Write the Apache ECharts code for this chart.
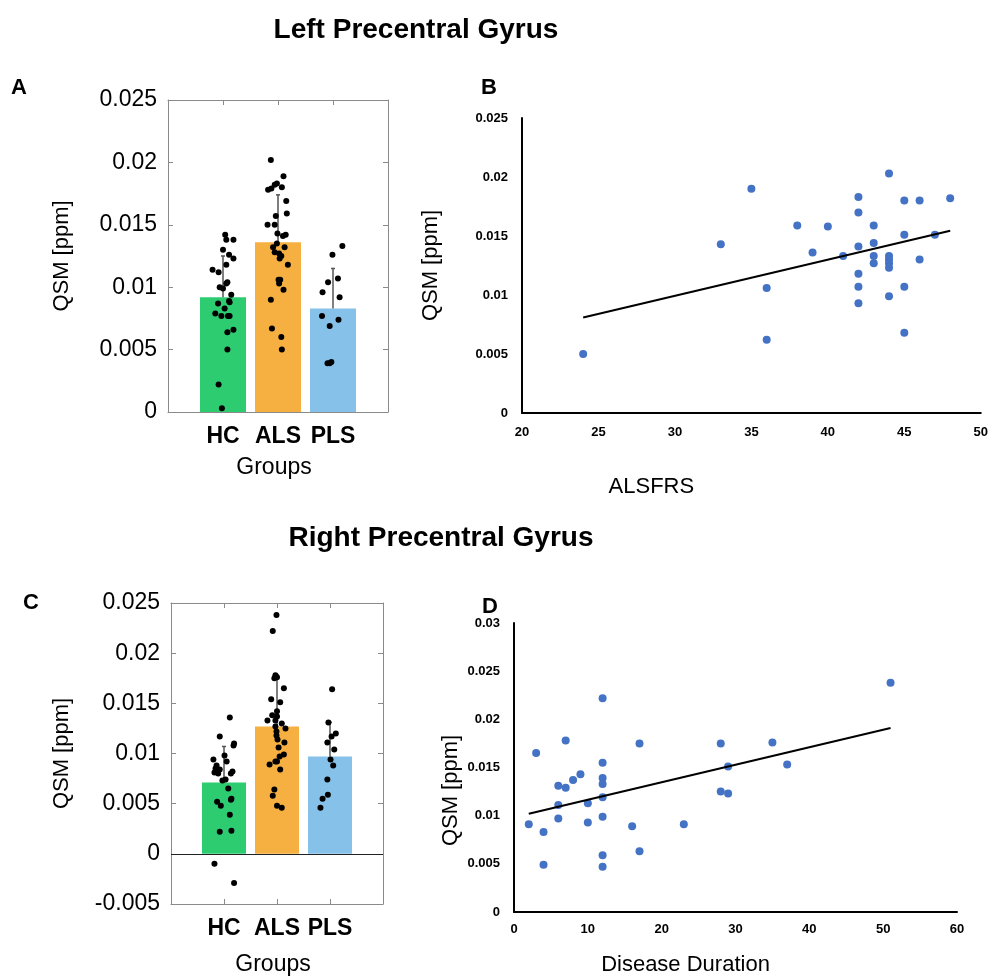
<!DOCTYPE html>
<html>
<head>
<meta charset="utf-8">
<title>QSM Precentral Gyrus</title>
<script src="https://cdn.jsdelivr.net/npm/echarts/dist/echarts.min.js"></script>
<style>
html,body{margin:0;padding:0;background:#fff;}
#chart{width:991px;height:978px;}
</style>
</head>
<body>
<div id="chart"></div>
<script>
var groups = ['HC', 'ALS', 'PLS'];

// A - left precentral gyrus, group means (+sd)
var leftMean = [0.0092, 0.0136, 0.0083];
var leftSd = [0.0033, 0.0038, 0.0032];
var leftHC = [0.0142, 0.0138, 0.0138, 0.0130, 0.0126, 0.0123, 0.0118, 0.0114, 0.0112, 0.0104, 0.0103, 0.0100, 0.0099, 0.0094, 0.0088, 0.0089, 0.0087, 0.0083, 0.0079, 0.0077, 0.0077, 0.0077, 0.0066, 0.0064, 0.0050, 0.0022, 0.0003];
var leftHCJit = [0.04, 0.19, 0.06, 0, 0.11, 0.19, 0.06, -0.19, -0.08, 0.08, 0.06, -0.06, 0, 0.15, 0.12, 0.11, -0.09, 0.03, -0.14, -0.03, 0.09, 0.12, 0.19, 0.08, 0.08, -0.08, -0.02];
var leftALS = [0.0202, 0.0189, 0.0183, 0.0182, 0.0178, 0.0179, 0.0180, 0.0169, 0.0159, 0.0157, 0.0150, 0.0150, 0.0143, 0.0142, 0.0141, 0.0135, 0.0132, 0.0132, 0.0128, 0.0127, 0.0125, 0.0123, 0.0118, 0.0106, 0.0106, 0.0103, 0.0098, 0.0090, 0.0067, 0.0060, 0.0050];
var leftALSJit = [-0.13, 0.10, -0.02, -0.06, -0.18, -0.12, 0.07, 0.15, 0.16, -0.04, -0.06, -0.19, -0.01, 0.14, 0.09, -0.02, -0.09, 0.12, -0.06, 0.02, 0.06, 0.03, 0.18, 0.01, 0.04, 0.02, 0.10, -0.13, -0.11, 0.06, 0.07];
var leftPLS = [0.0133, 0.0126, 0.0107, 0.0104, 0.0096, 0.0092, 0.0077, 0.0074, 0.0069, 0.0039, 0.0039, 0.0040];
var leftPLSJit = [0.17, -0.01, 0.09, -0.09, -0.19, 0.12, -0.20, 0.10, -0.06, -0.10, -0.06, -0.03];

// B - left QSM vs ALSFRS
var alsfrs = [24, 33, 35, 36, 36, 38, 39, 40, 41, 42, 42, 42, 42, 42, 42, 43, 43, 43, 43, 44, 44, 44, 44, 44, 44, 45, 45, 45, 45, 46, 46, 47, 48];
var leftQsm = [0.0050, 0.0143, 0.0190, 0.0106, 0.0062, 0.0159, 0.0136, 0.0158, 0.0133, 0.0183, 0.0170, 0.0141, 0.0118, 0.0107, 0.0093, 0.0159, 0.0144, 0.0133, 0.0127, 0.0203, 0.0133, 0.0130, 0.0127, 0.0123, 0.0099, 0.0180, 0.0151, 0.0107, 0.0068, 0.0180, 0.0130, 0.0151, 0.0182];
var leftTrendX = [24, 48];
var leftTrendY = [0.0081, 0.01545];

// C - right precentral gyrus
var rightMean = [0.0071, 0.0127, 0.0097];
var rightSd = [0.0036, 0.0051, 0.0034];
var rightHC = [0.0136, 0.0117, 0.0110, 0.0108, 0.0098, 0.0094, 0.0092, 0.0088, 0.0085, 0.0084, 0.0081, 0.0080, 0.0082, 0.0080, 0.0073, 0.0074, 0.0065, 0.0052, 0.0048, 0.0055, 0.0054, 0.0039, 0.0022, 0.0023, -0.0010, -0.0029];
var rightHCJit = [0.11, -0.08, 0.19, 0.18, 0.01, -0.20, 0.05, -0.14, -0.16, -0.08, -0.18, -0.11, 0.16, 0.13, -0.03, 0.03, 0.08, -0.13, -0.06, 0.14, 0.13, 0.11, -0.08, 0.14, -0.18, 0.19];
var rightALS = [0.0238, 0.0222, 0.0178, 0.0176, 0.0175, 0.0165, 0.0154, 0.0151, 0.0142, 0.0138, 0.0137, 0.0133, 0.0133, 0.0130, 0.0127, 0.0125, 0.0122, 0.0118, 0.0114, 0.0111, 0.0106, 0.0099, 0.0097, 0.0092, 0.0092, 0.0089, 0.0084, 0.0064, 0.0058, 0.0048, 0.0046];
var rightALSJit = [-0.01, -0.08, -0.03, 0, -0.05, 0.13, -0.11, 0.06, 0, -0.09, 0, -0.18, -0.03, 0.09, -0.03, 0.16, -0.01, -0.01, 0.01, 0.14, 0.03, 0.13, 0.05, -0.03, 0, -0.14, 0.06, -0.05, -0.08, 0, 0.09];
var rightPLS = [0.0164, 0.0131, 0.0120, 0.0117, 0.0111, 0.0104, 0.0094, 0.0088, 0.0074, 0.0059, 0.0055, 0.0046];
var rightPLSJit = [0.04, -0.03, 0.11, 0.03, -0.05, 0.08, 0.01, 0.06, -0.05, -0.04, -0.14, -0.18];

// D - right QSM vs disease duration
var duration = [2, 3, 4, 4, 6, 6, 6, 7, 7, 8, 9, 10, 10, 12, 12, 12, 12, 12, 12, 12, 12, 16, 17, 17, 23, 28, 28, 29, 29, 35, 37, 51];
var rightQsm = [0.0091, 0.0165, 0.0083, 0.0049, 0.0131, 0.0111, 0.0097, 0.0178, 0.0129, 0.0137, 0.0143, 0.0113, 0.0093, 0.0222, 0.0155, 0.0139, 0.0133, 0.0119, 0.0099, 0.0059, 0.0047, 0.0089, 0.0175, 0.0063, 0.0091, 0.0175, 0.0125, 0.0151, 0.0123, 0.0176, 0.0153, 0.0238];
var rightTrendX = [2, 51];
var rightTrendY = [0.0102, 0.0191];

var barColors = ['#2ecc71', '#f5b041', '#85c1e9'];
var dotBlue = '#4472c4';
var boxGrey = '#8a8a8a';
var font = 'Liberation Sans';

function pairs(xs, ys) {
    return xs.map(function (x, i) { return [x, ys[i]]; });
}
function jitter(vals, jit, pos) {
    return vals.map(function (v, i) { return [pos + jit[i], v]; });
}

function errRender(params, api) {
    var x = api.value(0), m = api.value(1), s = api.value(2);
    var a = api.coord([x, m]);
    var b = api.coord([x, m + s]);
    var st = { stroke: '#555', lineWidth: 1.5 };
    return {
        type: 'group',
        children: [
            { type: 'line', shape: { x1: a[0], y1: a[1], x2: b[0], y2: b[1] }, style: st },
            { type: 'line', shape: { x1: b[0] - 2, y1: b[1], x2: b[0] + 2, y2: b[1] }, style: st }
        ]
    };
}

// box axes (matlab style)
function boxX(grid, top, gap) {
    return {
        type: 'value', gridIndex: grid, position: top ? 'top' : 'bottom',
        min: 0, max: 4, interval: 1,
        name: top ? '' : 'Groups', nameLocation: 'middle', nameGap: gap,
        nameTextStyle: { fontSize: 23, fontFamily: font, color: '#000', padding: [0, 8, 0, 0] },
        axisLine: { onZero: false, lineStyle: { color: boxGrey, width: 1 } },
        axisTick: { inside: true, length: 5, lineStyle: { color: boxGrey } },
        axisLabel: {
            show: !top, margin: 13, fontSize: 23, fontWeight: 'bold', fontFamily: font, color: '#000',
            formatter: function (v) { return groups[v - 1] || ''; }
        },
        splitLine: { show: false }
    };
}
function boxY(grid, right, min, gap) {
    return {
        type: 'value', gridIndex: grid, position: right ? 'right' : 'left',
        min: min, max: 0.025, interval: 0.005,
        name: right ? '' : 'QSM [ppm]', nameLocation: 'middle', nameGap: gap,
        nameTextStyle: { fontSize: 22, fontFamily: font, color: '#000' },
        axisLine: { show: true, onZero: false, lineStyle: { color: boxGrey, width: 1 } },
        axisTick: { show: true, inside: true, length: 5, lineStyle: { color: boxGrey } },
        axisLabel: { show: !right, margin: 11, fontSize: 23, fontFamily: font, color: '#000' },
        splitLine: { show: false }
    };
}
// pad shifts the axis name along the axis (right padding moves it back)
function plainAxis(grid, min, max, step, name, gap, margin, pad) {
    return {
        type: 'value', gridIndex: grid, min: min, max: max, interval: step,
        name: name, nameLocation: 'middle', nameGap: gap,
        nameTextStyle: { fontSize: 22, fontFamily: font, color: '#000', padding: [0, pad || 0, 0, 0] },
        axisLine: { show: true, onZero: false, lineStyle: { color: '#000', width: 2 } },
        axisTick: { show: false },
        axisLabel: { margin: margin, fontSize: 13, fontWeight: 'bold', fontFamily: font, color: '#000' },
        splitLine: { show: false }
    };
}

function barSeries(ax, means, zero) {
    var s = {
        type: 'bar', xAxisIndex: ax, yAxisIndex: ax, barWidth: ax === 0 ? 46 : 44,
        data: means.map(function (m, i) { return { value: [i + 1, m], itemStyle: { color: barColors[i] } }; })
    };
    if (zero) {
        s.markLine = {
            silent: true, symbol: 'none', label: { show: false },
            lineStyle: { color: '#222', width: 1, type: 'solid' },
            data: [{ yAxis: 0 }]
        };
    }
    return s;
}
function errSeries(ax, means, sds) {
    return {
        type: 'custom', xAxisIndex: ax, yAxisIndex: ax, renderItem: errRender,
        encode: { x: 0, y: 1 }, z: 3,
        data: means.map(function (m, i) { return [i + 1, m, sds[i]]; })
    };
}
function dotSeries(ax, data) {
    return {
        type: 'scatter', xAxisIndex: ax, yAxisIndex: ax, symbolSize: 6, z: 4,
        itemStyle: { color: '#000', opacity: 1 }, data: data
    };
}

function titleText(text, x, y, size) {
    return {
        type: 'text', x: x, y: y,
        style: {
            text: text, font: 'bold ' + size + 'px "Liberation Sans"', fill: '#000',
            textAlign: 'center', textVerticalAlign: 'middle', align: 'center', verticalAlign: 'middle'
        }
    };
}

var chart = echarts.init(document.getElementById('chart'));
var option = {
    backgroundColor: '#fff',
    animation: false,
    grid: [
        { left: 168, top: 100, width: 220, height: 312 },
        { left: 171, top: 603, width: 212, height: 301 },
        { left: 522, top: 118, width: 463, height: 295 },
        { left: 514, top: 623, width: 443, height: 289 }
    ],
    xAxis: [
        boxX(0, false, 44), boxX(0, true, 0),
        boxX(1, false, 49), boxX(1, true, 0),
        plainAxis(2, 20, 50, 5, 'ALSFRS', 63, 13, 200),
        plainAxis(3, 0, 60, 10, 'Disease Duration', 42, 11, 100)
    ],
    yAxis: [
        boxY(0, false, 0, 95), boxY(0, true, 0, 0),
        boxY(1, false, -0.005, 98), boxY(1, true, -0.005, 0),
        plainAxis(2, 0, 0.025, 0.005, 'QSM [ppm]', 80, 14, 0),
        plainAxis(3, 0, 0.03, 0.005, 'QSM [ppm]', 52, 14, 46)
    ],
    graphic: [
        titleText('Left Precentral Gyrus', 416, 30, 28),
        titleText('Right Precentral Gyrus', 441, 538, 28),
        titleText('A', 19, 88, 22),
        titleText('B', 489, 88, 22),
        titleText('C', 31, 603, 22),
        titleText('D', 490, 607, 22)
    ],
    series: [
        // A
        barSeries(0, leftMean, false),
        errSeries(0, leftMean, leftSd),
        dotSeries(0, jitter(leftHC, leftHCJit, 1)),
        dotSeries(0, jitter(leftALS, leftALSJit, 2)),
        dotSeries(0, jitter(leftPLS, leftPLSJit, 3)),
        // C
        barSeries(2, rightMean, true),
        errSeries(2, rightMean, rightSd),
        dotSeries(2, jitter(rightHC, rightHCJit, 1)),
        dotSeries(2, jitter(rightALS, rightALSJit, 2)),
        dotSeries(2, jitter(rightPLS, rightPLSJit, 3)),
        // B
        { type: 'scatter', xAxisIndex: 4, yAxisIndex: 4, symbolSize: 8, itemStyle: { color: dotBlue, opacity: 1 }, data: pairs(alsfrs, leftQsm) },
        { type: 'line', xAxisIndex: 4, yAxisIndex: 4, symbol: 'none', lineStyle: { color: '#000', width: 2 }, data: pairs(leftTrendX, leftTrendY), z: 3 },
        // D
        { type: 'scatter', xAxisIndex: 5, yAxisIndex: 5, symbolSize: 8, itemStyle: { color: dotBlue, opacity: 1 }, data: pairs(duration, rightQsm) },
        { type: 'line', xAxisIndex: 5, yAxisIndex: 5, symbol: 'none', lineStyle: { color: '#000', width: 2 }, data: pairs(rightTrendX, rightTrendY), z: 3 }
    ]
};
chart.setOption(option);
</script>
</body>
</html>
